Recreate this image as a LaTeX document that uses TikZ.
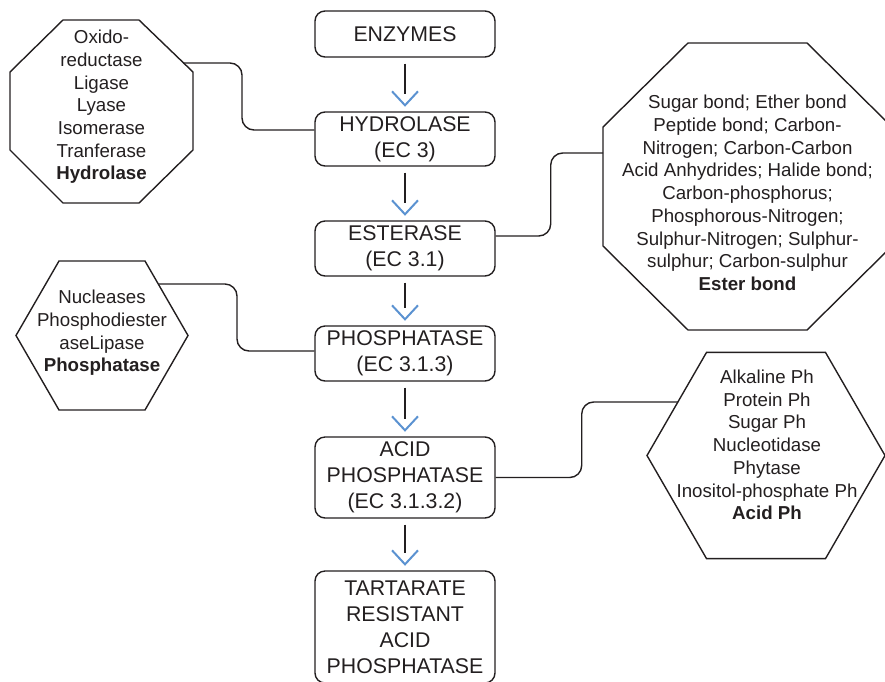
\documentclass[tikz,border=0pt]{standalone}
\usepackage{fontspec}
\setmainfont{Liberation Sans}
\usetikzlibrary{calc}
\definecolor{chevblue}{RGB}{91,146,209}
\definecolor{ink}{RGB}{35,31,32}
\begin{document}
\begin{tikzpicture}[x=1pt,y=-1pt,
 mainbox/.style={draw=ink, line width=1.4pt, rounded corners=10pt, minimum width=180pt, inner sep=0pt, align=center, text=ink, font=\fontsize{21.3}{26}\selectfont},
 sidetext/.style={inner sep=0pt, align=center, text=ink, font=\fontsize{18.7}{22.7}\selectfont},
 outline/.style={draw=ink, line width=1.4pt, line join=miter},
 link/.style={draw=ink, line width=1.4pt, rounded corners=12pt},
 flowline/.style={draw=ink, line width=1.4pt},
 chevron/.style={draw=chevblue, line width=2pt}]
\useasboundingbox (0,0) rectangle (885,681);

% main column
\node[mainbox, minimum height=46pt] (enz) at (405,34) {ENZYMES};
\node[mainbox, minimum height=54pt] (hyd) at (405,139) {HYDROLASE\\(EC 3)};
\node[mainbox, minimum height=55pt] (est) at (405,248.5) {ESTERASE\\(EC 3.1)};
\node[mainbox, minimum height=55pt] (pho) at (405,353.5) {PHOSPHATASE\\(EC 3.1.3)};
\node[mainbox, minimum height=81pt] (acp) at (405,477.5) {ACID\\PHOSPHATASE\\(EC 3.1.3.2)};
\node[mainbox, minimum height=112pt] (trap) at (405,627) {TARTARATE\\RESISTANT\\ACID\\PHOSPHATASE};

\foreach \a/\b in {enz/hyd,hyd/est,est/pho,pho/acp,acp/trap}{
  \draw[flowline] ([yshift=-6pt]\a.south) -- ([yshift=17pt]\b.north);
  \draw[chevron] ([xshift=-13pt,yshift=20pt]\b.north) -- ([yshift=6pt]\b.north) -- ([xshift=13pt,yshift=20pt]\b.north);
}

% left octagon
\coordinate (octLc) at (101.5,111.5);
\draw[outline] (63,20) -- (139,20) -- (193,72) -- (193,150) -- (139,203) -- (63,203) -- (10,150) -- (10,72) -- cycle;
\node[sidetext] (octL) at (101.5,107) {Oxido-\\reductase\\Ligase\\Lyase\\Isomerase\\Tranferase\\\textbf{Hydrolase}};
\draw[link] ($(octLc)+(81.5,-48.5)$) -- ++(59,0) |- ([yshift=9pt]hyd.west);

% right octagon
\coordinate (octRc) at (747.5,186.5);
\draw[outline] (688,43) -- (807,43) -- (892,127) -- (892,246) -- (807,330) -- (688,330) -- (603,246) -- (603,127) -- cycle;
\node[sidetext] (octR) at (747.5,193) {Sugar bond; Ether bond\\Peptide bond; Carbon-\\Nitrogen; Carbon-Carbon\\Acid Anhydrides; Halide bond;\\Carbon-phosphorus;\\Phosphorous-Nitrogen;\\Sulphur-Nitrogen; Sulphur-\\sulphur; Carbon-sulphur\\\textbf{Ester bond}};
\draw[link] ([yshift=12.5pt]est.east) -- ++(55,0) |- ($(octRc)+(-144.5,-33.5)$);

% left hexagon
\coordinate (hexLc) at (102,335.5);
\draw[outline] (16,335.5) -- (59,261) -- (145,261) -- (188,335.5) -- (145,410) -- (59,410) -- cycle;
\node[sidetext] (hexL) at (102,333) {Nucleases\\Phosphodiester\\aseLipase\\\textbf{Phosphatase}};
\draw[link] ($(hexLc)+(57,-51.5)$) -- ++(78,0) |- ([yshift=2.5pt]pho.west);

% right hexagon
\coordinate (hexRc) at (766,455.5);
\draw[outline] (647,455.5) -- (706.5,352.4) -- (825.5,352.4) -- (885,455.5) -- (825.5,558.6) -- (706.5,558.6) -- cycle;
\node[sidetext] (hexR) at (767,445) {Alkaline Ph\\Protein Ph\\Sugar Ph\\Nucleotidase\\Phytase\\Inositol-phosphate Ph\\\textbf{Acid Ph}};
\draw[link] (acp.east) -- ++(86,0) |- ($(hexRc)+(-88,-53.5)$);
\end{tikzpicture}
\end{document}
